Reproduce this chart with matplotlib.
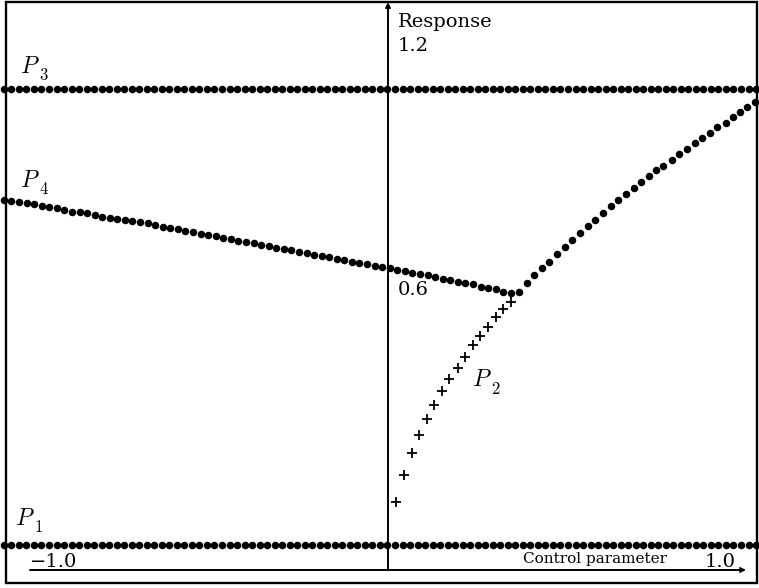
import numpy as np
import matplotlib
matplotlib.use('Agg')
from matplotlib import pyplot
from matplotlib.patches import Rectangle

# values (x = control parameter, y = response)
p3_level = 1.03
p1_level = 0.054
flat_x_start, flat_x_end, flat_count = -1.073, 1.028, 101

# P4 descending branch: x evenly spaced, y read dot by dot
p4_x_start, p4_x_end = -1.073, 0.343
p4_y = [0.793, 0.791, 0.789, 0.786, 0.784, 0.780, 0.778, 0.776, 0.771, 0.768,
        0.767, 0.765, 0.761, 0.756, 0.754, 0.752, 0.750, 0.748, 0.746, 0.744,
        0.739, 0.735, 0.733, 0.731, 0.726, 0.724,
        0.721, 0.718, 0.715, 0.712, 0.709, 0.706, 0.703, 0.700, 0.697, 0.694,
        0.691, 0.688, 0.685, 0.682, 0.679, 0.676, 0.673, 0.670, 0.667, 0.664,
        0.661, 0.658, 0.655, 0.652,
        0.649, 0.647, 0.643, 0.641, 0.636, 0.634, 0.632, 0.628, 0.624, 0.621,
        0.617, 0.615, 0.613, 0.606, 0.604, 0.602, 0.596, 0.594]

# rising branch after the fold
rise_x = [0.366, 0.388, 0.408, 0.430, 0.450, 0.472, 0.494, 0.514, 0.536, 0.559,
          0.578, 0.601, 0.623, 0.642, 0.665, 0.687, 0.707, 0.729, 0.749, 0.768,
          0.793, 0.813, 0.835, 0.858, 0.877, 0.899, 0.919, 0.944, 0.964, 0.983,
          1.003, 1.025]
rise_y = [0.596, 0.615, 0.632, 0.647, 0.660, 0.677, 0.692, 0.707, 0.722, 0.737,
          0.751, 0.765, 0.779, 0.792, 0.806, 0.819, 0.832, 0.844, 0.857, 0.866,
          0.879, 0.891, 0.902, 0.915, 0.926, 0.936, 0.949, 0.958, 0.971, 0.981,
          0.992, 1.003]

# P2 (plus markers)
p2_x = [0.022, 0.045, 0.067, 0.087, 0.109, 0.128, 0.151, 0.170, 0.196, 0.215,
        0.237, 0.257, 0.279, 0.302, 0.321, 0.344]
p2_y = [0.146, 0.204, 0.251, 0.289, 0.324, 0.354, 0.384, 0.409, 0.433, 0.456,
        0.482, 0.501, 0.521, 0.542, 0.559, 0.574]

# curve labels: subscript, x, baseline y
branch_labels = [('3', -1.028, 1.065), ('4', -1.028, 0.821),
                 ('1', -1.042, 0.0964), ('2', 0.235, 0.394)]

pyplot.rcParams['mathtext.fontset'] = 'cm'
pyplot.rcParams['font.family'] = 'DejaVu Serif'

fig = pyplot.figure(figsize=(7.59, 5.88), dpi=100)
ax = fig.add_axes([0, 0, 1, 1])
ax.set_xlim(-1.0838, 1.0363)
ax.set_ylim(-0.0386, 1.2214)
ax.axis('off')

# outer frame
fig.patches.append(Rectangle((0.0079, 0.0085), 0.9895, 0.9881, transform=fig.transFigure,
                             fill=False, lw=1.7, color='black'))

dot = dict(ls='none', marker='o', ms=4.4, color='black', mec='black')
flat_x = np.linspace(flat_x_start, flat_x_end, flat_count)
ax.plot(flat_x, [p3_level] * flat_count, **dot)
ax.plot(flat_x, [p1_level] * flat_count, **dot)
ax.plot(np.linspace(p4_x_start, p4_x_end, len(p4_y)), p4_y, **dot)
ax.plot(rise_x, rise_y, **dot)
ax.plot(p2_x, p2_y, ls='none', marker='+', ms=6.5, mew=1.3, color='black')

# axes with small arrow heads
ax.annotate('', xy=(0, 1.217), xytext=(0, 0),
            arrowprops=dict(arrowstyle='-|>', lw=1.4, color='black', mutation_scale=7,
                            shrinkA=0, shrinkB=0))
ax.annotate('', xy=(1.0, 0), xytext=(-1.0, 0),
            arrowprops=dict(arrowstyle='->', lw=1.4, color='black', mutation_scale=7,
                            shrinkA=0, shrinkB=0))

ax.text(0.028, 1.1635, 'Response', fontsize=14, va='baseline')
ax.text(0.028, 1.112, '1.2', fontsize=14, va='baseline')
ax.text(0.028, 0.589, '0.6', fontsize=14, va='baseline')
ax.text(-1.0, 0.0064, '\u22121.0', fontsize=14, va='baseline')
ax.text(0.885, 0.0064, '1.0', fontsize=14, va='baseline')
ax.text(0.377, 0.015, 'Control parameter', fontsize=11, va='baseline')

for sub, lx, ly in branch_labels:
    ax.text(lx, ly, '$P$', fontsize=17, va='baseline')
    ax.text(lx + 0.053, ly - 0.016, '$\\mathrm{' + sub + '}$', fontsize=12, va='baseline')

fig.savefig('out.png', dpi=100)
